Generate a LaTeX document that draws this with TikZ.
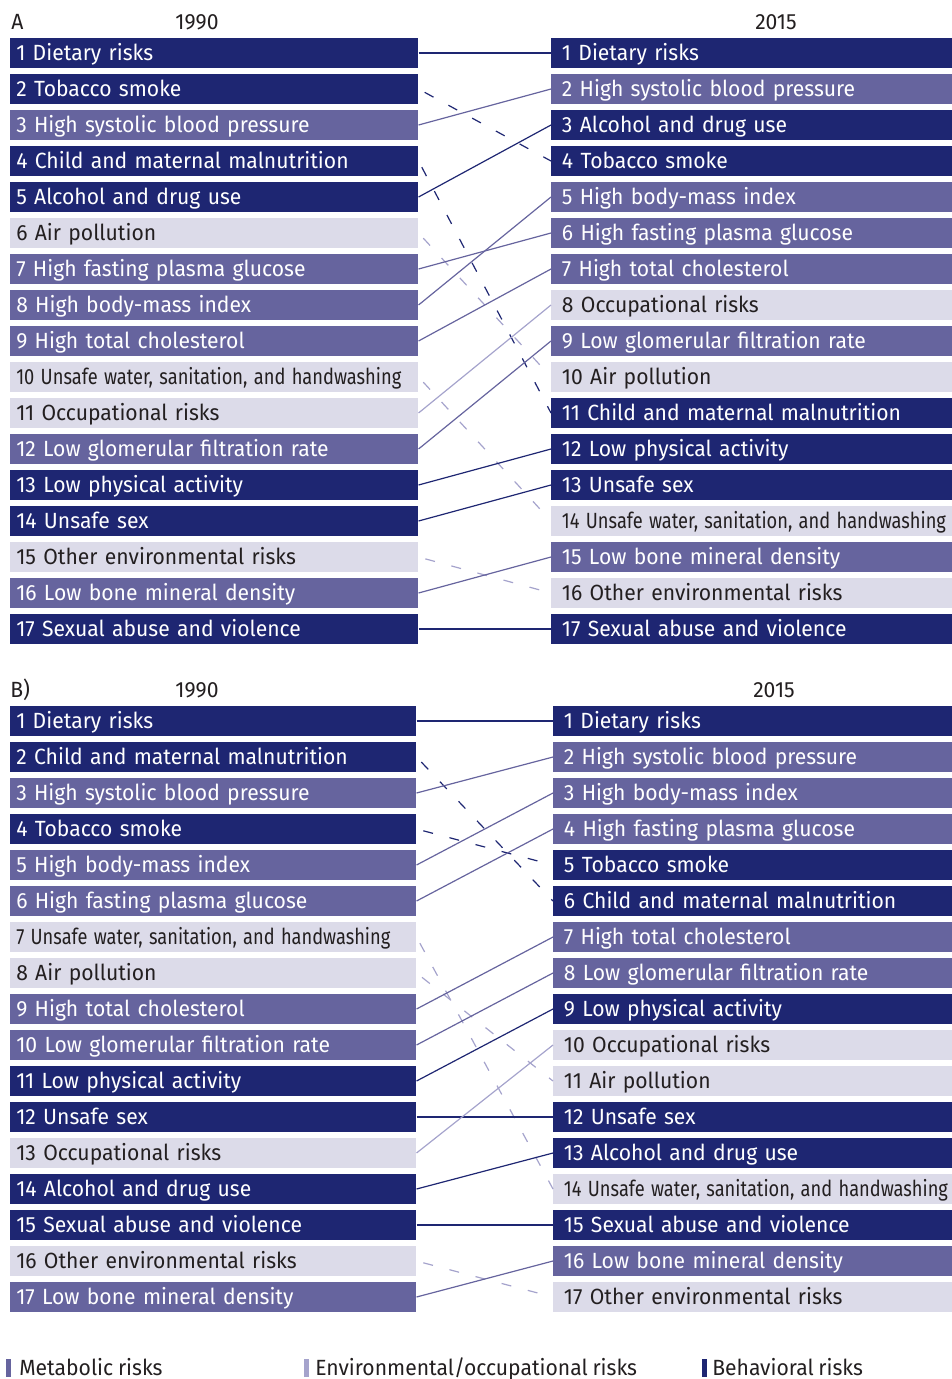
\documentclass[tikz,border=0pt]{standalone}
\usepackage{fontspec}
\setmainfont[FakeStretch=0.96,WordSpace=0.85]{Fira Sans}
\usepackage{graphicx}
\definecolor{navy}{RGB}{30,38,114}
\definecolor{metab}{RGB}{102,100,158}
\definecolor{envfill}{RGB}{220,219,233}
\definecolor{envline}{RGB}{165,163,204}
\definecolor{txtdark}{RGB}{35,31,32}
\newcommand\sqz[2]{\resizebox{#1}{\height}{#2}}
\begin{document}
\begin{tikzpicture}[x=0.75pt,y=-0.75pt,
  lbl/.style={font=\fontsize{16.5}{19}\selectfont},
  cB/.style={fill=navy,text=white},
  cM/.style={fill=metab,text=white},
  cE/.style={fill=envfill,text=txtdark},
  rowbox/.style={lbl, anchor=west, inner sep=0pt, minimum height=22.1pt, align=left, text height=11.4pt, text depth=0pt},
  colAL/.style={rowbox, text width=306pt, execute at begin node={\hspace*{4.5pt}}},
  colAR/.style={rowbox, text width=300.75pt, execute at begin node={\hspace*{8pt}}},
  colBL/.style={rowbox, text width=304.5pt, execute at begin node={\hspace*{4.5pt}}},
  colBR/.style={rowbox, text width=299.25pt, execute at begin node={\hspace*{8pt}}},
  ln/.style={line width=0.9pt},
  dsh/.style={dash pattern=on 7.5pt off 12.75pt, dash phase=15pt},
  lB/.style={ln, draw=navy}, lM/.style={ln, draw=metab}, lE/.style={ln, draw=envline},
  lBd/.style={lB, dsh}, lMd/.style={lM, dsh}, lEd/.style={lE, dsh},
  hdr/.style={lbl, anchor=base, inner sep=0pt, text=txtdark},
  legbar/.style={inner sep=0pt, minimum width=3.2pt, minimum height=13pt},
  legtxt/.style={lbl, anchor=base west, inner sep=0pt, text=txtdark}
]
\useasboundingbox (0,0) rectangle (952,1379);

% ---------- Panel A ----------
\node[hdr, anchor=base west] (hA) at (11,29) {A};
\node[hdr] (hA1990) at (197,29) {1990};
\node[hdr] (hA2015) at (776,29) {2015};

\foreach \i/\c/\t in {
  1/B/{1 Dietary risks},
  2/B/{2 Tobacco smoke},
  3/M/{3 High systolic blood pressure},
  4/B/{4 Child and maternal malnutrition},
  5/B/{5 Alcohol and drug use},
  6/E/{6 Air pollution},
  7/M/{7 High fasting plasma glucose},
  8/M/{8 High body-mass index},
  9/M/{9 High total cholesterol},
  10/E/{\sqz{288.75pt}{10 Unsafe water, sanitation, and handwashing}},
  11/E/{11 Occupational risks},
  12/M/{12 Low glomerular filtration rate},
  13/B/{13 Low physical activity},
  14/B/{14 Unsafe sex},
  15/E/{15 Other environmental risks},
  16/M/{16 Low bone mineral density},
  17/B/{17 Sexual abuse and violence}}
  \node[colAL, c\c] (AL\i) at (10,{53+36*(\i-1)}) {\t};

\foreach \i/\c/\t in {
  1/B/{1 Dietary risks},
  2/M/{2 High systolic blood pressure},
  3/B/{3 Alcohol and drug use},
  4/B/{4 Tobacco smoke},
  5/M/{5 High body-mass index},
  6/M/{6 High fasting plasma glucose},
  7/M/{7 High total cholesterol},
  8/E/{8 Occupational risks},
  9/M/{9 Low glomerular filtration rate},
  10/E/{10 Air pollution},
  11/B/{11 Child and maternal malnutrition},
  12/B/{12 Low physical activity},
  13/B/{13 Unsafe sex},
  14/E/{\sqz{288pt}{14 Unsafe water, sanitation, and handwashing}},
  15/M/{15 Low bone mineral density},
  16/E/{16 Other environmental risks},
  17/B/{17 Sexual abuse and violence}}
  \node[colAR, c\c] (AR\i) at (551,{53+36*(\i-1)}) {\t};

\foreach \a/\b/\s in {1/1/lB, 2/4/lBd, 3/2/lM, 4/11/lBd, 5/3/lB, 6/10/lEd,
  7/6/lM, 8/5/lM, 9/7/lM, 10/14/lEd, 11/8/lE, 12/9/lM, 13/12/lB, 14/13/lB,
  15/16/lEd, 16/15/lM, 17/17/lB}
  \draw[\s] (AL\a.east) -- (AR\b.west);

% ---------- Panel B ----------
\node[hdr, anchor=base west] (hB) at (10,697) {B)};
\node[hdr] (hB1990) at (197,697) {1990};
\node[hdr] (hB2015) at (774,697) {2015};

\foreach \i/\c/\t in {
  1/B/{1 Dietary risks},
  2/B/{2 Child and maternal malnutrition},
  3/M/{3 High systolic blood pressure},
  4/B/{4 Tobacco smoke},
  5/M/{5 High body-mass index},
  6/M/{6 High fasting plasma glucose},
  7/E/{\sqz{280.5pt}{7 Unsafe water, sanitation, and handwashing}},
  8/E/{8 Air pollution},
  9/M/{9 High total cholesterol},
  10/M/{10 Low glomerular filtration rate},
  11/B/{11 Low physical activity},
  12/B/{12 Unsafe sex},
  13/E/{13 Occupational risks},
  14/B/{14 Alcohol and drug use},
  15/B/{15 Sexual abuse and violence},
  16/E/{16 Other environmental risks},
  17/M/{17 Low bone mineral density}}
  \node[colBL, c\c] (BL\i) at (10,{721+36*(\i-1)}) {\t};

\foreach \i/\c/\t in {
  1/B/{1 Dietary risks},
  2/M/{2 High systolic blood pressure},
  3/M/{3 High body-mass index},
  4/M/{4 High fasting plasma glucose},
  5/B/{5 Tobacco smoke},
  6/B/{6 Child and maternal malnutrition},
  7/M/{7 High total cholesterol},
  8/M/{8 Low glomerular filtration rate},
  9/B/{9 Low physical activity},
  10/E/{10 Occupational risks},
  11/E/{11 Air pollution},
  12/B/{12 Unsafe sex},
  13/B/{13 Alcohol and drug use},
  14/E/{\sqz{288pt}{14 Unsafe water, sanitation, and handwashing}},
  15/B/{15 Sexual abuse and violence},
  16/M/{16 Low bone mineral density},
  17/E/{17 Other environmental risks}}
  \node[colBR, c\c] (BR\i) at (553,{721+36*(\i-1)}) {\t};

\foreach \a/\b/\s in {1/1/lB, 2/6/lBd, 3/2/lM, 4/5/lBd, 5/3/lM, 6/4/lM,
  7/14/lEd, 8/11/lEd, 9/7/lM, 10/8/lM, 11/9/lB, 12/12/lB, 13/10/lE, 14/13/lB,
  15/15/lB, 16/17/lEd, 17/16/lM}
  \draw[\s] (BL\a.east) -- (BR\b.west);

% ---------- Legend ----------
\node[legbar, fill=metab] (k1) at (8.5,1368) {};
\node[legtxt] (t1) at (19,1375) {Metabolic risks};
\node[legbar, fill=envline] (k2) at (306.5,1368) {};
\node[legtxt] (t2) at (315,1375) {Environmental/occupational risks};
\node[legbar, fill=navy] (k3) at (704.5,1368) {};
\node[legtxt] (t3) at (712,1375) {Behavioral risks};
\end{tikzpicture}
\end{document}
